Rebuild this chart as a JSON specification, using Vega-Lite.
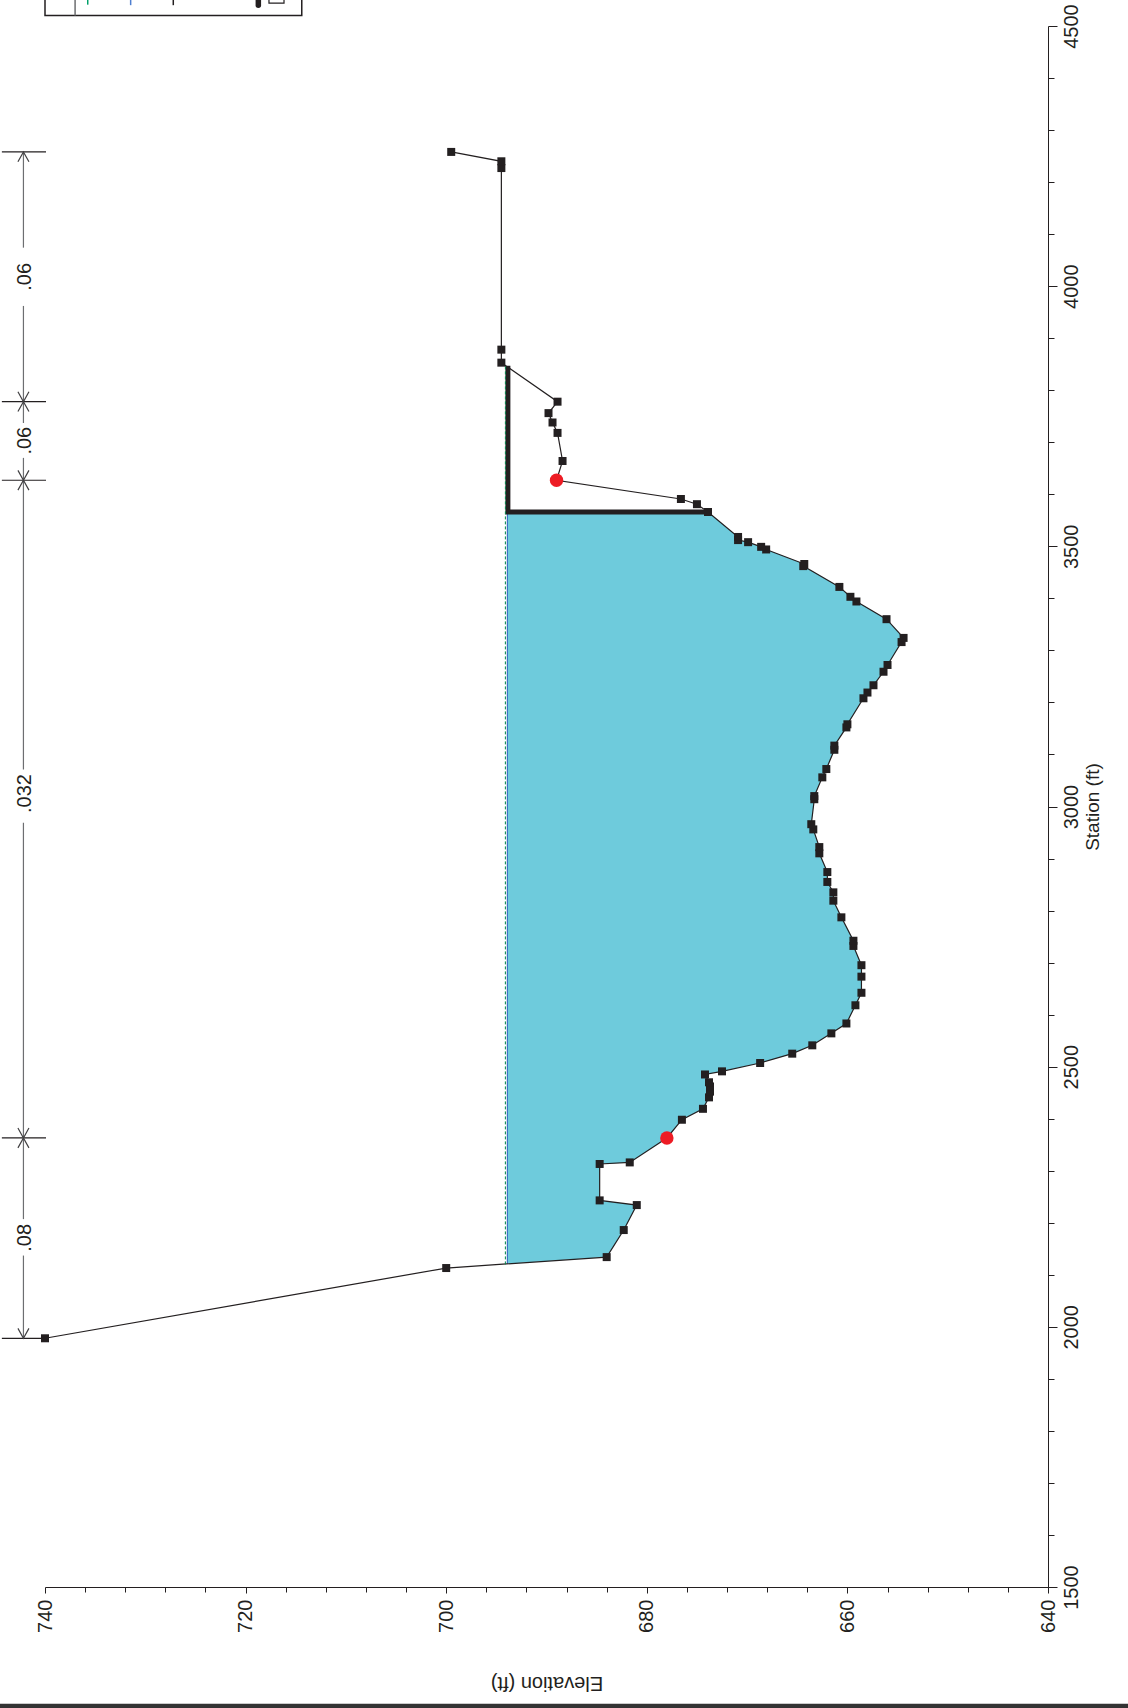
{
  "$schema": "https://vega.github.io/schema/vega-lite/v6.json",
  "width": 1003,
  "height": 1561,
  "autosize": {"type": "none"},
  "padding": {"left": 45, "top": 26, "right": 80, "bottom": 121},
  "background": "white",
  "config": {"view": {"stroke": null}, "font": "Liberation Sans"},
  "datasets": {
    "ground": [
      {"station": 1978, "elev": 740.0}, {"station": 2113, "elev": 700.0}, {"station": 2134, "elev": 684.0},
      {"station": 2186, "elev": 682.3}, {"station": 2234, "elev": 681.0}, {"station": 2243, "elev": 684.7},
      {"station": 2313, "elev": 684.7}, {"station": 2316, "elev": 681.7}, {"station": 2363, "elev": 678.0},
      {"station": 2398, "elev": 676.5}, {"station": 2419, "elev": 674.4}, {"station": 2441, "elev": 673.8},
      {"station": 2452, "elev": 673.7}, {"station": 2462, "elev": 673.7}, {"station": 2470, "elev": 673.8},
      {"station": 2485, "elev": 674.2}, {"station": 2491, "elev": 672.5}, {"station": 2507, "elev": 668.7},
      {"station": 2525, "elev": 665.5}, {"station": 2541, "elev": 663.5}, {"station": 2564, "elev": 661.6},
      {"station": 2583, "elev": 660.1}, {"station": 2618, "elev": 659.2}, {"station": 2642, "elev": 658.6},
      {"station": 2673, "elev": 658.6}, {"station": 2695, "elev": 658.6}, {"station": 2732, "elev": 659.4},
      {"station": 2742, "elev": 659.4}, {"station": 2787, "elev": 660.6}, {"station": 2819, "elev": 661.4},
      {"station": 2835, "elev": 661.4}, {"station": 2855, "elev": 662.0}, {"station": 2874, "elev": 662.0},
      {"station": 2910, "elev": 662.8}, {"station": 2922, "elev": 662.8}, {"station": 2956, "elev": 663.4},
      {"station": 2966, "elev": 663.6}, {"station": 3014, "elev": 663.3}, {"station": 3020, "elev": 663.3},
      {"station": 3056, "elev": 662.5}, {"station": 3072, "elev": 662.1}, {"station": 3109, "elev": 661.3},
      {"station": 3117, "elev": 661.3}, {"station": 3152, "elev": 660.1}, {"station": 3158, "elev": 660.0},
      {"station": 3208, "elev": 658.4}, {"station": 3219, "elev": 658.0}, {"station": 3233, "elev": 657.4},
      {"station": 3259, "elev": 656.4}, {"station": 3272, "elev": 656.0}, {"station": 3316, "elev": 654.6},
      {"station": 3324, "elev": 654.4}, {"station": 3360, "elev": 656.1}, {"station": 3394, "elev": 659.1},
      {"station": 3403, "elev": 659.7}, {"station": 3422, "elev": 660.8}, {"station": 3462, "elev": 664.4},
      {"station": 3466, "elev": 664.3}, {"station": 3494, "elev": 668.1}, {"station": 3499, "elev": 668.6},
      {"station": 3508, "elev": 669.9}, {"station": 3512, "elev": 670.9}, {"station": 3518, "elev": 670.9},
      {"station": 3566, "elev": 673.9}, {"station": 3581, "elev": 675.0}, {"station": 3591, "elev": 676.6},
      {"station": 3627, "elev": 689.0}, {"station": 3664, "elev": 688.4}, {"station": 3718, "elev": 688.9},
      {"station": 3738, "elev": 689.4}, {"station": 3756, "elev": 689.8}, {"station": 3778, "elev": 688.9},
      {"station": 3853, "elev": 694.5}, {"station": 3878, "elev": 694.5}, {"station": 4227, "elev": 694.5},
      {"station": 4240, "elev": 694.5}, {"station": 4258, "elev": 699.5}
    ],
    "water": [
      {"station": 2121, "elev": 693.9}, {"station": 2134, "elev": 684.0},
      {"station": 2186, "elev": 682.3}, {"station": 2234, "elev": 681.0}, {"station": 2243, "elev": 684.7},
      {"station": 2313, "elev": 684.7}, {"station": 2316, "elev": 681.7}, {"station": 2363, "elev": 678.0},
      {"station": 2398, "elev": 676.5}, {"station": 2419, "elev": 674.4}, {"station": 2441, "elev": 673.8},
      {"station": 2452, "elev": 673.7}, {"station": 2462, "elev": 673.7}, {"station": 2470, "elev": 673.8},
      {"station": 2485, "elev": 674.2}, {"station": 2491, "elev": 672.5}, {"station": 2507, "elev": 668.7},
      {"station": 2525, "elev": 665.5}, {"station": 2541, "elev": 663.5}, {"station": 2564, "elev": 661.6},
      {"station": 2583, "elev": 660.1}, {"station": 2618, "elev": 659.2}, {"station": 2642, "elev": 658.6},
      {"station": 2673, "elev": 658.6}, {"station": 2695, "elev": 658.6}, {"station": 2732, "elev": 659.4},
      {"station": 2742, "elev": 659.4}, {"station": 2787, "elev": 660.6}, {"station": 2819, "elev": 661.4},
      {"station": 2835, "elev": 661.4}, {"station": 2855, "elev": 662.0}, {"station": 2874, "elev": 662.0},
      {"station": 2910, "elev": 662.8}, {"station": 2922, "elev": 662.8}, {"station": 2956, "elev": 663.4},
      {"station": 2966, "elev": 663.6}, {"station": 3014, "elev": 663.3}, {"station": 3020, "elev": 663.3},
      {"station": 3056, "elev": 662.5}, {"station": 3072, "elev": 662.1}, {"station": 3109, "elev": 661.3},
      {"station": 3117, "elev": 661.3}, {"station": 3152, "elev": 660.1}, {"station": 3158, "elev": 660.0},
      {"station": 3208, "elev": 658.4}, {"station": 3219, "elev": 658.0}, {"station": 3233, "elev": 657.4},
      {"station": 3259, "elev": 656.4}, {"station": 3272, "elev": 656.0}, {"station": 3316, "elev": 654.6},
      {"station": 3324, "elev": 654.4}, {"station": 3360, "elev": 656.1}, {"station": 3394, "elev": 659.1},
      {"station": 3403, "elev": 659.7}, {"station": 3422, "elev": 660.8}, {"station": 3462, "elev": 664.4},
      {"station": 3466, "elev": 664.3}, {"station": 3494, "elev": 668.1}, {"station": 3499, "elev": 668.6},
      {"station": 3508, "elev": 669.9}, {"station": 3512, "elev": 670.9}, {"station": 3518, "elev": 670.9},
      {"station": 3566, "elev": 673.9}
    ],
    "banks": [{"station": 2363, "elev": 678.0}, {"station": 3627, "elev": 689.0}],
    "wall": [
      {"i": 1, "station": 3566, "elev": 673.9},
      {"i": 2, "station": 3566, "elev": 693.85},
      {"i": 3, "station": 3847, "elev": 693.85}
    ],
    "ws": [{"elev": 693.9, "s1": 2121, "s2": 3566}],
    "eg": [{"elev": 694.1, "s1": 2120, "s2": 3848}],
    "nbreaks": [{"station": 1978}, {"station": 2363}, {"station": 3627}, {"station": 3778}, {"station": 4258}],
    "nsegs": [
      {"s1": 1978, "s2": 2137}, {"s1": 2207, "s2": 2363},
      {"s1": 2363, "s2": 2969}, {"s1": 3071, "s2": 3627},
      {"s1": 3627, "s2": 3670}, {"s1": 3737, "s2": 3778},
      {"s1": 3778, "s2": 3962}, {"s1": 4074, "s2": 4258}
    ],
    "nlabels": [
      {"label": ".08", "station": 2171}, {"label": ".032", "station": 3025},
      {"label": ".06", "station": 3703}, {"label": ".06", "station": 4018}
    ],
    "narrows": [
      {"station": 1978, "dir": "down"}, {"station": 2363, "dir": "up"}, {"station": 2363, "dir": "down"},
      {"station": 3627, "dir": "up"}, {"station": 3627, "dir": "down"}, {"station": 3778, "dir": "up"},
      {"station": 3778, "dir": "down"}, {"station": 4258, "dir": "up"}
    ],
    "legendbox": [{"e1": 740.0, "e2": 714.4, "s1": 4520, "s2": 4600}],
    "legenddiv": [{"elev": 737.0, "s1": 4520, "s2": 4600}],
    "legendkeys": [
      {"key": "EG", "elev": 735.74, "s1": 4541, "s2": 4560},
      {"key": "WS", "elev": 731.46, "s1": 4540, "s2": 4560},
      {"key": "Ground", "elev": 727.21, "s1": 4540, "s2": 4560}
    ],
    "legendblob": [{"elev": 718.73, "s1": 4540, "s2": 4560}],
    "legendicon": [{"e1": 717.67, "e2": 716.17, "s1": 4544, "s2": 4560}],
    "frame": [{"station": 1271, "e1": 745, "e2": 630}]
  },
  "layer": [
    {
      "data": {"name": "water"},
      "mark": {"type": "area", "orient": "horizontal", "color": "#6ECBDC", "opacity": 1},
      "encoding": {
        "y": {
          "field": "station", "type": "quantitative",
          "scale": {"domain": [1500, 4500], "nice": false, "zero": false},
          "axis": {
            "orient": "right",
            "title": "Station (ft)",
            "values": [1500,1600,1700,1800,1900,2000,2100,2200,2300,2400,2500,2600,2700,2800,2900,3000,3100,3200,3300,3400,3500,3600,3700,3800,3900,4000,4100,4200,4300,4400,4500],
            "format": "d",
            "labelExpr": "datum.value % 500 === 0 ? datum.label : ''",
            "tickSize": {"condition": {"test": "datum.value % 500 === 0", "value": 9}, "value": 6},
            "labelAngle": 270, "labelAlign": "center", "labelBaseline": "top",
            "labelPadding": 4, "labelFontSize": 20, "labelFont": "Liberation Sans",
            "labelColor": "#231F20", "labelOverlap": false, "labelBound": false, "labelFlush": false,
            "tickColor": "#231F20", "domainColor": "#231F20", "domainWidth": 1, "tickWidth": 1,
            "grid": false,
            "titleAngle": 270, "titleX": 44, "titleBaseline": "middle", "titleAlign": "center",
            "titleFontSize": 19, "titleFontWeight": "normal", "titleFont": "Liberation Sans", "titleColor": "#231F20"
          }
        },
        "x": {
          "field": "elev", "type": "quantitative",
          "scale": {"domain": [640, 740], "reverse": true, "nice": false, "zero": false},
          "axis": {
            "orient": "bottom",
            "title": "Elevation (ft)",
            "values": [640,644,648,652,656,660,664,668,672,676,680,684,688,692,696,700,704,708,712,716,720,724,728,732,736,740],
            "format": "d",
            "labelExpr": "datum.value % 20 === 0 ? datum.label : ''",
            "tickSize": {"condition": {"test": "datum.value % 20 === 0", "value": 6}, "value": 5},
            "labelAngle": 270, "labelAlign": "right", "labelBaseline": "middle",
            "labelPadding": 6, "labelFontSize": 20, "labelFont": "Liberation Sans",
            "labelColor": "#231F20", "labelOverlap": false, "labelBound": false, "labelFlush": false,
            "tickColor": "#231F20", "domainColor": "#231F20", "domainWidth": 1, "tickWidth": 1,
            "grid": false,
            "titleAngle": 180, "titleY": 95, "titleBaseline": "middle", "titleAlign": "center",
            "titleFontSize": 20, "titleFontWeight": "normal", "titleFont": "Liberation Sans", "titleColor": "#231F20"
          }
        },
        "x2": {"datum": 693.9}
      }
    },
    {
      "data": {"name": "ws"},
      "mark": {"type": "rule", "color": "#3B6FC2", "strokeWidth": 1.2},
      "encoding": {
        "x": {"field": "elev", "type": "quantitative"},
        "y": {"field": "s1", "type": "quantitative"},
        "y2": {"field": "s2"}
      }
    },
    {
      "data": {"name": "ground"},
      "mark": {"type": "line", "color": "#231F20", "strokeWidth": 1.2},
      "encoding": {
        "x": {"field": "elev", "type": "quantitative"},
        "y": {"field": "station", "type": "quantitative"},
        "order": {"field": "station", "type": "quantitative"}
      }
    },
    {
      "data": {"name": "wall"},
      "mark": {"type": "line", "color": "#231F20", "strokeWidth": 5, "strokeJoin": "miter", "strokeCap": "butt"},
      "encoding": {
        "x": {"field": "elev", "type": "quantitative"},
        "y": {"field": "station", "type": "quantitative"},
        "order": {"field": "i", "type": "quantitative"}
      }
    },
    {
      "data": {"name": "eg"},
      "mark": {"type": "rule", "color": "#00854A", "strokeWidth": 1, "strokeDash": [3, 2]},
      "encoding": {
        "x": {"field": "elev", "type": "quantitative"},
        "y": {"field": "s1", "type": "quantitative"},
        "y2": {"field": "s2"}
      }
    },
    {
      "data": {"name": "ground"},
      "mark": {"type": "point", "shape": "square", "filled": true, "size": 64, "color": "#231F20", "opacity": 1},
      "encoding": {
        "x": {"field": "elev", "type": "quantitative"},
        "y": {"field": "station", "type": "quantitative"}
      }
    },
    {
      "data": {"name": "banks"},
      "mark": {"type": "point", "shape": "circle", "filled": true, "size": 180, "color": "#ED1C24", "opacity": 1},
      "encoding": {
        "x": {"field": "elev", "type": "quantitative"},
        "y": {"field": "station", "type": "quantitative"}
      }
    },
    {
      "data": {"name": "nbreaks"},
      "mark": {"type": "rule", "color": "#231F20", "strokeWidth": 1.2},
      "encoding": {
        "y": {"field": "station", "type": "quantitative"},
        "x": {"datum": 744.3},
        "x2": {"datum": 739.9}
      }
    },
    {
      "data": {"name": "nsegs"},
      "mark": {"type": "rule", "color": "#6D6E71", "strokeWidth": 1.2},
      "encoding": {
        "x": {"datum": 742.15},
        "y": {"field": "s1", "type": "quantitative"},
        "y2": {"field": "s2"}
      }
    },
    {
      "data": {"name": "narrows"},
      "mark": {"type": "point", "filled": false, "size": 121, "color": "#414042", "strokeWidth": 1.2, "opacity": 1},
      "encoding": {
        "x": {"datum": 742.15},
        "y": {"field": "station", "type": "quantitative"},
        "shape": {
          "field": "dir", "type": "nominal", "legend": null,
          "scale": {"domain": ["up", "down"], "range": ["M -1 1.8 L 0 0 L 1 1.8", "M -1 -1.8 L 0 0 L 1 -1.8"]}
        }
      }
    },
    {
      "data": {"name": "nlabels"},
      "mark": {"type": "text", "angle": 270, "align": "center", "baseline": "middle", "fontSize": 20, "font": "Liberation Sans", "color": "#231F20"},
      "encoding": {
        "x": {"datum": 742.0},
        "y": {"field": "station", "type": "quantitative"},
        "text": {"field": "label"}
      }
    },
    {
      "data": {"name": "legendbox"},
      "mark": {"type": "rect", "fill": "white", "stroke": "#231F20", "strokeWidth": 1.5},
      "encoding": {
        "x": {"field": "e1", "type": "quantitative"},
        "x2": {"field": "e2"},
        "y": {"field": "s1", "type": "quantitative"},
        "y2": {"field": "s2"}
      }
    },
    {
      "data": {"name": "legenddiv"},
      "mark": {"type": "rule", "color": "#6D6E71", "strokeWidth": 1.5},
      "encoding": {
        "x": {"field": "elev", "type": "quantitative"},
        "y": {"field": "s1", "type": "quantitative"},
        "y2": {"field": "s2"}
      }
    },
    {
      "data": {"name": "legendkeys"},
      "mark": {"type": "rule", "strokeWidth": 1.5},
      "encoding": {
        "x": {"field": "elev", "type": "quantitative"},
        "y": {"field": "s1", "type": "quantitative"},
        "y2": {"field": "s2"},
        "color": {
          "field": "key", "type": "nominal", "legend": null,
          "scale": {"domain": ["EG", "WS", "Ground"], "range": ["#00A06A", "#4F7FD0", "#231F20"]}
        }
      }
    },
    {
      "data": {"name": "legendblob"},
      "mark": {"type": "rule", "strokeWidth": 5.5, "strokeCap": "round", "color": "#231F20"},
      "encoding": {
        "x": {"field": "elev", "type": "quantitative"},
        "y": {"field": "s1", "type": "quantitative"},
        "y2": {"field": "s2"}
      }
    },
    {
      "data": {"name": "legendicon"},
      "mark": {"type": "rect", "fill": "white", "stroke": "#231F20", "strokeWidth": 1.2},
      "encoding": {
        "x": {"field": "e1", "type": "quantitative"},
        "x2": {"field": "e2"},
        "y": {"field": "s1", "type": "quantitative"},
        "y2": {"field": "s2"}
      }
    },
    {
      "data": {"name": "frame"},
      "mark": {"type": "rule", "color": "#333333", "strokeWidth": 5},
      "encoding": {
        "y": {"field": "station", "type": "quantitative"},
        "x": {"field": "e1", "type": "quantitative"},
        "x2": {"field": "e2"}
      }
    }
  ]
}
